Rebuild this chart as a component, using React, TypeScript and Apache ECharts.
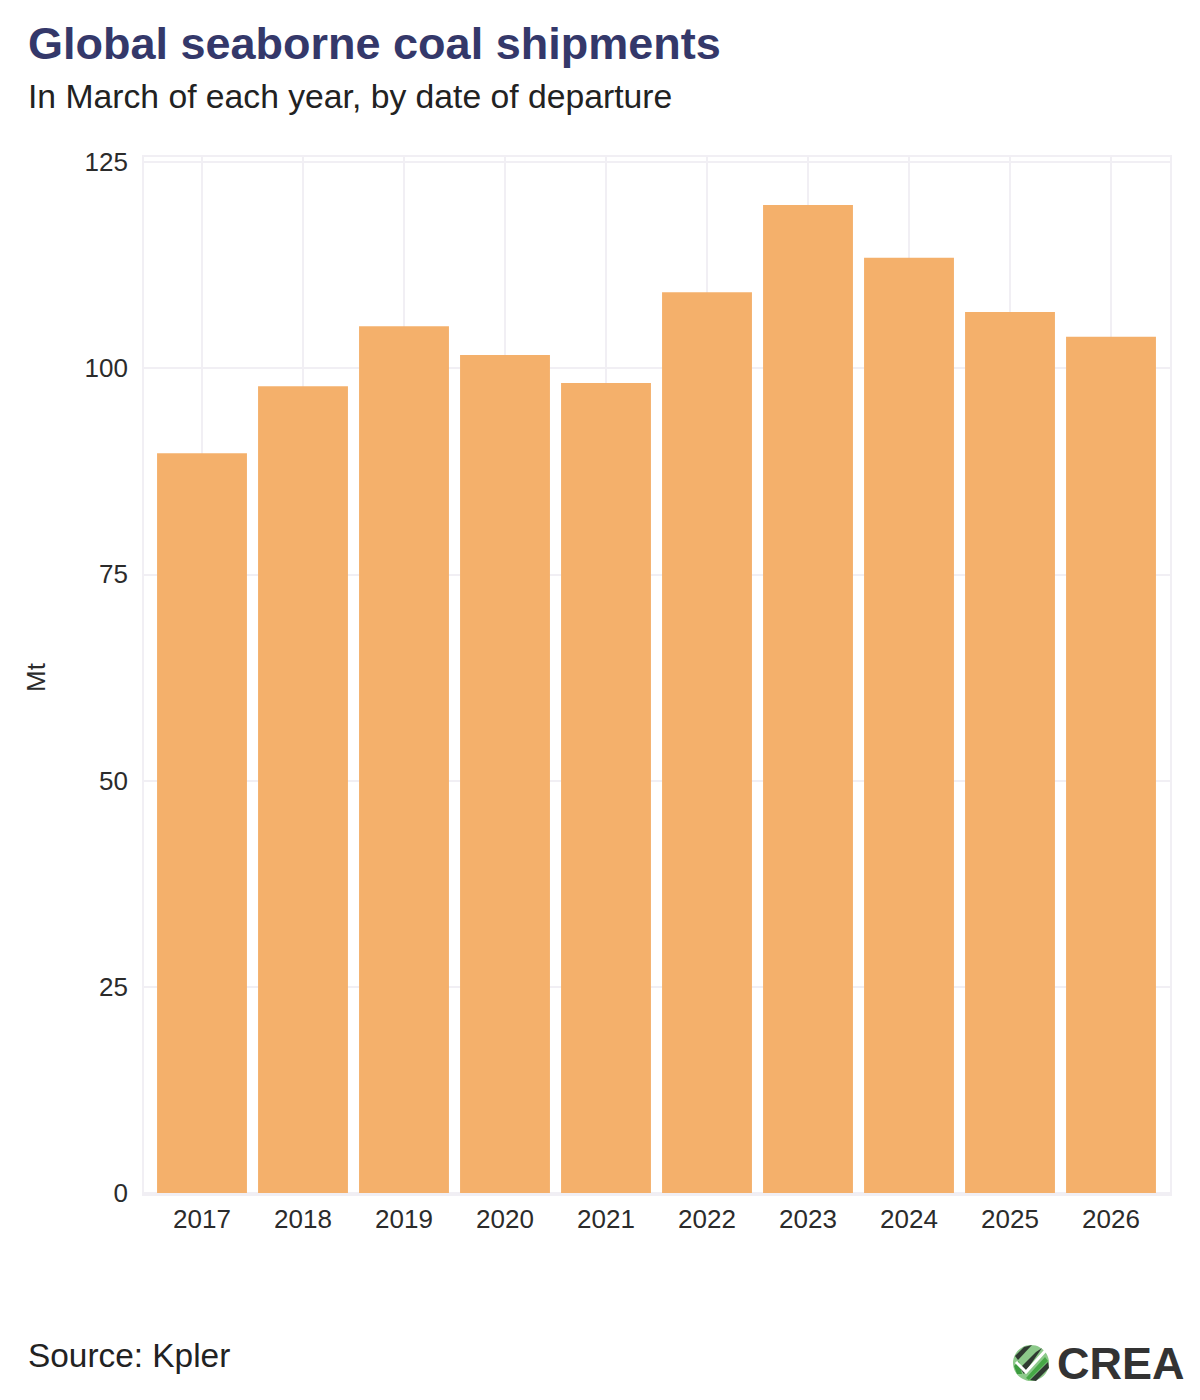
import React, { useEffect, useRef } from "react";
import * as echarts from "echarts";

const years = ["2017", "2018", "2019", "2020", "2021", "2022", "2023", "2024", "2025", "2026"];
const shipments = [89.7, 97.8, 105.1, 101.6, 98.2, 109.2, 119.8, 113.4, 106.8, 103.8];
const yMin = 0;
const yMax = 125;
const yStep = 25;

const titleText = "Global seaborne coal shipments";
const subtitleText = "In March of each year, by date of departure";
const sourceText = "Source: Kpler";
const yAxisName = "Mt";

const FONT = "'Liberation Sans', Arial, sans-serif";
const GRID_COLOR = "#f1eff4";
const BAR_COLOR = "#f4b06b";
const TEXT_COLOR = "#2b2b2b";

export default function App() {
  const ref = useRef<HTMLDivElement>(null);

  useEffect(() => {
    document.body.style.margin = "0";
    if (!ref.current) return;
    const chart = echarts.init(ref.current, undefined, { renderer: "svg" });

    const option: any = {
      animation: false,
      backgroundColor: "#ffffff",
      textStyle: { fontFamily: FONT },
      title: [
        {
          text: titleText,
          left: 23,
          top: 16,
          textStyle: { fontFamily: FONT, fontSize: 45, fontWeight: "bold", color: "#34386a" },
        },
        {
          text: subtitleText,
          left: 23,
          top: 74,
          textStyle: { fontFamily: FONT, fontSize: 33.7, fontWeight: "normal", color: "#222222" },
        },
        {
          text: sourceText,
          left: 23,
          top: 1334,
          textStyle: { fontFamily: FONT, fontSize: 33.4, fontWeight: "normal", color: "#222222" },
        },
      ],
      grid: [
        { left: 151.5, top: 162, width: 1010, height: 1031, containLabel: false },
        { left: 143, top: 162, width: 1028, height: 1031, containLabel: false },
        { left: 202, top: 156, width: 909, height: 1039, containLabel: false },
      ],
      xAxis: [
        {
          type: "category",
          gridIndex: 0,
          data: years,
          axisLine: { show: false },
          axisTick: { show: false },
          splitLine: { show: false },
          axisLabel: { fontFamily: FONT, fontSize: 26, color: TEXT_COLOR, margin: 13 },
        },
        { type: "value", gridIndex: 1, show: false, min: 0, max: 1 },
        {
          type: "category",
          gridIndex: 2,
          data: years,
          boundaryGap: false,
          axisLine: { show: false },
          axisTick: { show: false },
          axisLabel: { show: false },
          splitLine: { show: true, lineStyle: { color: GRID_COLOR, width: 2 } },
        },
      ],
      yAxis: [
        { type: "value", gridIndex: 0, min: yMin, max: yMax, interval: yStep, show: false },
        {
          type: "value",
          gridIndex: 1,
          min: yMin,
          max: yMax,
          interval: yStep,
          axisLine: { show: false },
          axisTick: { show: false },
          axisLabel: { fontFamily: FONT, fontSize: 26, color: TEXT_COLOR, margin: 15 },
          splitLine: { show: true, lineStyle: { color: GRID_COLOR, width: 2 } },
          name: yAxisName,
          nameLocation: "middle",
          nameRotate: 90,
          nameGap: 94,
          nameTextStyle: { fontFamily: FONT, fontSize: 26, color: TEXT_COLOR },
        },
        { type: "value", gridIndex: 2, show: false, min: 0, max: 1 },
      ],
      series: [
        {
          type: "bar",
          xAxisIndex: 0,
          yAxisIndex: 0,
          data: shipments,
          barCategoryGap: "11%",
          itemStyle: { color: BAR_COLOR },
          z: 3,
        },
      ],
      graphic: [
        {
          type: "rect",
          shape: { x: 143, y: 156, width: 1028, height: 1039 },
          style: { fill: "none", stroke: GRID_COLOR, lineWidth: 2 },
          z: 0,
          silent: true,
        },
        {
          type: "group",
          x: 1012,
          y: 1344,
          children: [
            { type: "circle", shape: { cx: 19, cy: 19, r: 18 }, style: { fill: "#8cc98a" } },
            { type: "polygon", shape: { points: [[3, 12], [12, 3], [20, 1], [6, 16]] }, style: { fill: "#2f3a31" } },
            { type: "polygon", shape: { points: [[8, 24], [24, 8], [30, 4], [12, 30]] }, style: { fill: "#2f3a31" } },
            { type: "polygon", shape: { points: [[2, 22], [7, 17], [10, 30], [5, 30]] }, style: { fill: "#3c9b3f" } },
            { type: "polygon", shape: { points: [[18, 36], [36, 18], [37, 24], [24, 37]] }, style: { fill: "#2f3a31" } },
            { type: "polygon", shape: { points: [[14, 34], [33, 13], [36, 17], [17, 36]] }, style: { fill: "#46a846" } },
            { type: "polyline", shape: { points: [[4, 18], [14, 28], [34, 6]] }, style: { stroke: "#ffffff", lineWidth: 3, fill: "none" } },
          ],
        },
        {
          type: "text",
          x: 1057,
          y: 1341,
          style: {
            text: "CREA",
            fontFamily: FONT,
            fontSize: 45,
            fontWeight: "bold",
            fill: "#333333",
          },
        },
      ],
    };

    chart.setOption(option);
    return () => {
      chart.dispose();
    };
  }, []);

  return <div ref={ref} style={{ width: 1200, height: 1400 }} />;
}
